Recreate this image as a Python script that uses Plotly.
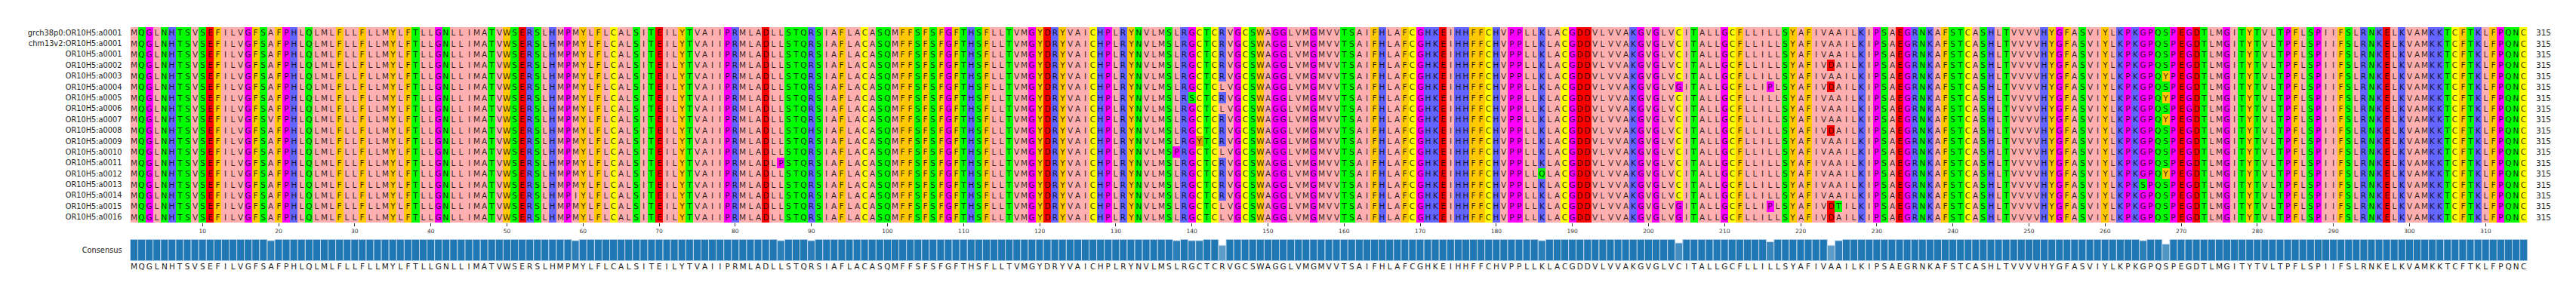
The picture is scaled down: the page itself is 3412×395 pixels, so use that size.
import plotly.graph_objects as go

# ---------------- data ----------------
seq_names = [
    "grch38p0:OR10H5:a0001", "chm13v2:OR10H5:a0001",
    "OR10H5:a0001", "OR10H5:a0002", "OR10H5:a0003", "OR10H5:a0004",
    "OR10H5:a0005", "OR10H5:a0006", "OR10H5:a0007", "OR10H5:a0008",
    "OR10H5:a0009", "OR10H5:a0010", "OR10H5:a0011", "OR10H5:a0012",
    "OR10H5:a0013", "OR10H5:a0014", "OR10H5:a0015", "OR10H5:a0016",
]

reference_seq = (
    "MQGLNHTSVSEFILVGFSAFPHLQLMLFLLFLLMYLFTLLGNLLIMATVW"
    "SERSLHMPMYLFLCALSITEILYTVAIIPRMLADLLSTQRSIAFLACASQ"
    "MFFSFSFGFTHSFLLTVMGYDRYVAICHPLRYNVLMSLRGCTCRVGCSWA"
    "GGLVMGMVVTSAIFHLAFCGHKEIHHFFCHVPPLLKLACGDDVLVVAKGV"
    "GLVCITALLGCFLLILLSYAFIVAAILKIPSAEGRNKAFSTCASHLTVVV"
    "VHYGFASVIYLKPKGPQSPEGDTLMGITYTVLTPFLSPIIFSLRNKELKV"
    "AMKKTCFTKLFPQNC"
)

# substitutions per sequence: {sequence name: [(position, residue), ...]}
substitutions = {
    "OR10H5:a0002": [(224, "D")],
    "OR10H5:a0003": [(268, "Y")],
    "OR10H5:a0004": [(144, "L"), (204, "G"), (216, "P"), (224, "D")],
    "OR10H5:a0005": [(140, "S"), (268, "Y")],
    "OR10H5:a0006": [(144, "L")],
    "OR10H5:a0007": [(19, "V"), (268, "Y")],
    "OR10H5:a0008": [(90, "H"), (224, "D")],
    "OR10H5:a0009": [(141, "Y")],
    "OR10H5:a0010": [(138, "P"), (144, "L")],
    "OR10H5:a0011": [(86, "P")],
    "OR10H5:a0012": [(186, "Q"), (268, "Y")],
    "OR10H5:a0013": [(265, "S")],
    "OR10H5:a0014": [(59, "I")],
    "OR10H5:a0015": [(144, "L"), (204, "G"), (216, "P"), (224, "D"), (225, "T")],
    "OR10H5:a0016": [(144, "L"), (204, "G"), (224, "D")],
}

# one cell drawn in a darker shade in the reference
shaded_cells = [("OR10H5:a0009", 141)]

tick_positions = list(range(10, 311, 10))

# Zappo colour scheme
residue_groups = ["AILMV", "FWY", "KRH", "DE", "STNQ", "PG", "C"]
group_colors = ["#ffafaf", "#ffc800", "#6464ff", "#ff0000", "#00ff00", "#ff00ff", "#ffff00"]
shade_color = "#e6a600"

# ---------------- build alignment ----------------
sequences = []
for name in seq_names:
    s = list(reference_seq)
    for pos, aa in substitutions.get(name, []):
        s[pos - 1] = aa
    sequences.append("".join(s))

L = len(reference_seq)
positions = list(range(1, L + 1))

def group_of(aa):
    for i, g in enumerate(residue_groups):
        if aa in g:
            return i
    return 0

ncol = len(group_colors) + 1
z = []
for r, s in enumerate(sequences):
    row = [group_of(a) for a in s]
    for nm, pos in shaded_cells:
        if nm == seq_names[r]:
            row[pos - 1] = ncol - 1
    z.append(row)
text = [list(s) for s in sequences]

all_colors = group_colors + [shade_color]
colorscale = []
for i, c in enumerate(all_colors):
    colorscale.append([i / ncol, c])
    colorscale.append([(i + 1) / ncol, c])

# consensus & conservation
consensus = []
conservation = []
for j in range(L):
    col = [s[j] for s in sequences]
    best = max(set(col), key=col.count)
    consensus.append(best)
    conservation.append(col.count(best) / len(col))

bar_colors = [f"rgba(31,119,180,{c:.3f})" for c in conservation]

# ---------------- figure ----------------
# the page body has an 8px margin, so the figure sits at (8, 8)
OFF = 8
W, H = 3412 - 2 * OFF, 395 - 2 * OFF

def px_x(x):
    return (x - OFF) / W

def px_y(y):
    return (H - (y - OFF)) / H

x0, x1 = px_x(172.5), px_x(3347.7)
msa_dom = [px_y(295), px_y(36)]
bar_dom = [px_y(345.7), px_y(317.3)]
FONT = "DejaVu Sans"

fig = go.Figure()
fig.add_trace(go.Heatmap(
    z=z, x=positions, y=list(range(len(seq_names))),
    text=text, texttemplate="%{text}",
    textfont=dict(family=FONT, size=10.5, color="rgba(0,0,0,0.82)"),
    colorscale=colorscale, zmin=-0.5, zmax=ncol - 0.5,
    showscale=False, xgap=0, ygap=0, hoverinfo="skip",
    xaxis="x", yaxis="y",
))
fig.add_trace(go.Bar(
    x=positions, y=conservation, width=1.0,
    marker=dict(color=bar_colors, line=dict(color="#c4d8e8", width=1)),
    xaxis="x2", yaxis="y2", hoverinfo="skip", showlegend=False,
))

for r, s in enumerate(sequences):
    fig.add_annotation(
        x=px_x(3357), xref="paper", xanchor="left",
        y=r, yref="y", yanchor="middle",
        text=str(len(s.replace("-", ""))), showarrow=False,
        font=dict(family=FONT, size=10.5, color="#222"),
    )

fig.update_layout(
    width=W, height=H,
    margin=dict(l=0, r=0, t=0, b=0),
    paper_bgcolor="white", plot_bgcolor="white",
    showlegend=False,
    font=dict(family=FONT, color="#222"),
    xaxis=dict(
        domain=[x0, x1], range=[0.5, L + 0.5], anchor="y",
        tickvals=tick_positions, ticktext=[str(t) for t in tick_positions],
        ticks="outside", ticklen=4, tickwidth=1, tickcolor="#333",
        tickfont=dict(family=FONT, size=7.5, color="#333"),
        showgrid=False, zeroline=False, showline=False, tickangle=0,
    ),
    yaxis=dict(
        domain=msa_dom, range=[len(seq_names) - 0.5, -0.5], anchor="x",
        tickvals=list(range(len(seq_names))), ticktext=seq_names,
        ticks="outside", ticklen=8, tickcolor="rgba(0,0,0,0)",
        tickfont=dict(family=FONT, size=9.8, color="#222"),
        showgrid=False, zeroline=False, showline=False,
    ),
    xaxis2=dict(
        domain=[x0, x1], range=[0.5, L + 0.5], anchor="y2",
        tickvals=positions, ticktext=consensus, tickangle=0,
        ticks="", tickfont=dict(family=FONT, size=10.5, color="#222"),
        showgrid=False, zeroline=False, showline=False,
    ),
    yaxis2=dict(
        domain=bar_dom, range=[0, 1], anchor="x2",
        tickvals=[0.5], ticktext=["Consensus"],
        ticks="outside", ticklen=8, tickcolor="rgba(0,0,0,0)",
        tickfont=dict(family=FONT, size=9.8, color="#222"),
        showgrid=False, zeroline=False, showline=False,
    ),
)

fig.write_html("out.html")
